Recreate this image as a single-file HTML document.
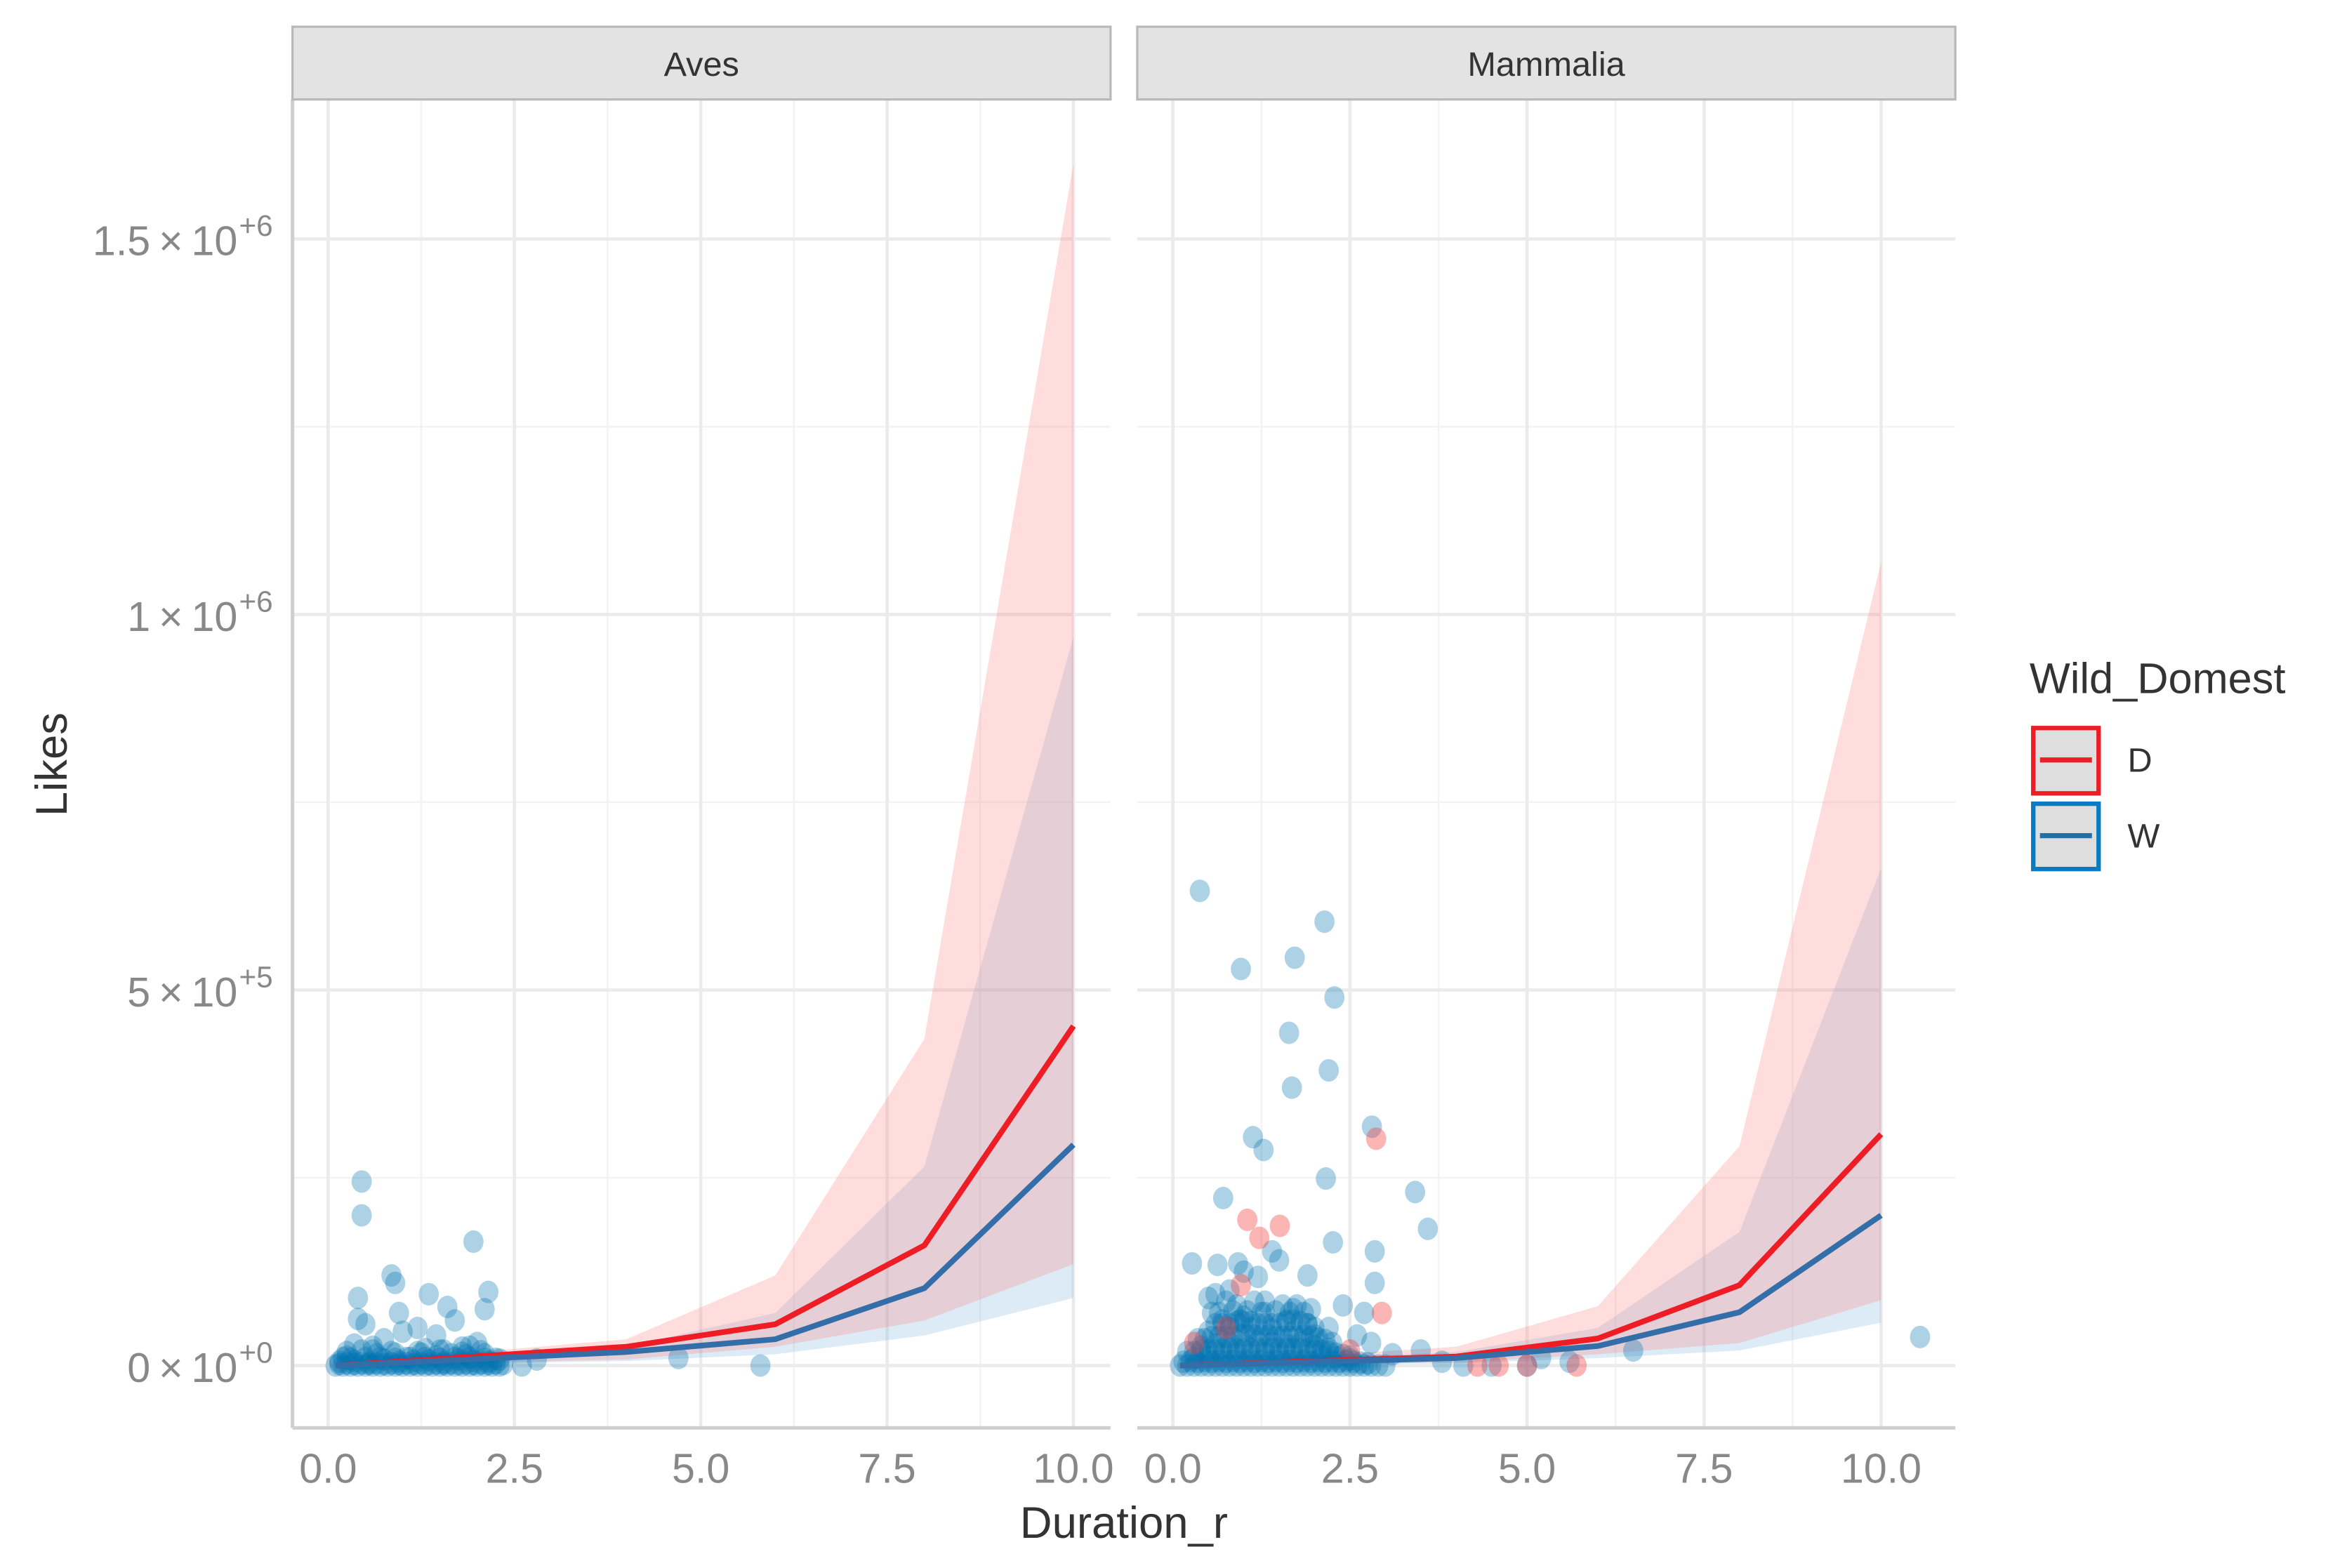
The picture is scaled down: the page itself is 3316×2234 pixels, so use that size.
<!DOCTYPE html>
<html><head><meta charset="utf-8"><style>
html,body{margin:0;padding:0;background:#fff}
svg{display:block}
text{font-family:"Liberation Sans",sans-serif}
</style></head><body>
<svg id="chart" width="3316" height="2234" viewBox="0 0 1568 1056.4" preserveAspectRatio="none" xmlns="http://www.w3.org/2000/svg">
<g id="root"></g>
</svg>
<script>
// ---- data ----
const lineX = [0.1, 4, 6, 8, 10];
const avesDLine = [0, 25000, 55000, 160000, 452000];
const avesWLine = [0, 18000, 35000, 103000, 294000];
const avesDUpper = [2000, 35000, 120000, 435000, 1600000];
const avesDLower = [0, 8000, 25000, 60000, 135000];
const avesWUpper = [1500, 25000, 70000, 265000, 970000];
const avesWLower = [0, 6000, 15000, 40000, 90000];
const mamDLine = [0, 12000, 36000, 107000, 308000];
const mamWLine = [0, 10000, 26000, 71000, 200000];
const mamDUpper = [2000, 25000, 79000, 292000, 1070000];
const mamDLower = [0, 4000, 15000, 30000, 87000];
const mamWUpper = [1500, 18000, 50000, 178000, 662000];
const mamWLower = [0, 3000, 10000, 20000, 57000];

const avesWX = [0.45,0.45,1.95,0.85,0.9,0.4,2.15,1.35,1.6,2.1,0.95,0.4,1.7,1.2,0.5,1.45,0.75,1.0,1.9,2.0,0.35,1.55,2.8,4.7,5.8,2.6,
 0.1,0.2,0.3,0.4,0.5,0.6,0.7,0.8,0.9,1.0,1.1,1.2,1.3,1.4,1.5,1.6,1.7,1.8,1.9,2.0,2.1,2.2,2.3,0.15,0.35,0.55,0.75,0.95,1.15,1.35,1.55,1.75,1.95,2.15,0.25,0.65,1.05,1.45,1.85,2.25,0.45,0.85,1.25,1.65,2.05,0.6,1.3,1.8,
 0.15,0.25,0.35,0.45,0.55,0.65,0.75,0.85,0.95,1.05,1.15,1.25,1.35,1.45,1.55,1.65,1.75,1.85,1.95,2.05,2.15,2.25,2.35,
 0.2,0.3,0.5,0.7,0.9,1.1,1.3,1.5,1.7,1.9,2.1,2.3,0.25,0.6,0.9,1.2,1.5,1.8,2.1];
const avesWY = [245000,200000,165000,120000,110000,90000,98000,95000,78000,75000,70000,62000,60000,50000,55000,40000,35000,45000,25000,30000,28000,20000,8000,10000,0,0,
 0,0,0,0,0,0,0,0,0,0,0,0,0,0,0,0,0,0,0,0,0,0,0,5000,6000,4000,8000,5000,6000,7000,4000,8000,6000,5000,12000,15000,10000,12000,14000,9000,20000,18000,16000,15000,19000,25000,22000,24000,
 2000,3000,2000,3000,2000,3000,2000,3000,2000,3000,2000,3000,2000,3000,2000,3000,2000,3000,2000,3000,2000,3000,2000,
 10000,9000,10000,10000,9000,10000,10000,9000,10000,10000,9000,8000,18000,20000,16000,18000,20000,17000,15000];

const mamWX = [0.38,2.14,0.96,1.72,2.28,1.64,2.2,1.68,2.81,1.13,1.28,3.42,2.16,3.6,0.71,2.26,2.85,0.27,0.63,0.92,1.4,2.85,1.0,1.5,0.5,0.8,1.2,1.9,2.4,2.7,3.1,3.5,10.55,6.5,5.6,5.2,4.1,3.8,5.0,4.5,
 0.1,0.2,0.3,0.4,0.5,0.6,0.7,0.8,0.9,1.0,1.1,1.2,1.3,1.4,1.5,1.6,1.7,1.8,1.9,2.0,2.1,2.2,2.3,2.4,2.5,2.6,2.7,2.8,2.9,3.0,
 0.3,0.5,0.7,0.9,1.1,1.3,1.5,1.7,1.9,2.1,2.3,2.5,0.4,0.6,0.8,1.0,1.2,1.4,1.6,1.8,2.0,2.2,0.5,0.8,1.1,1.4,1.7,2.0,0.7,1.0,1.3,1.6,1.9,2.2,0.9,1.3,1.7,0.55,0.6,0.95,2.6,2.8,
 0.15,0.25,0.35,0.45,0.55,0.65,0.75,0.85,0.95,1.05,1.15,1.25,1.35,1.45,1.55,1.65,1.75,1.85,1.95,2.05,2.15,2.25,2.35,2.45,2.55,2.65,2.75,
 0.2,0.3,0.4,0.5,0.6,0.7,0.8,0.9,1.0,1.1,1.2,1.3,1.4,1.5,1.6,1.7,1.8,1.9,2.0,2.1,2.2,2.3,2.4,2.5,
 0.35,0.45,0.55,0.65,0.75,0.85,0.95,1.05,1.15,1.25,1.35,1.45,1.55,1.65,1.75,1.85,1.95,2.05,2.15,2.25,
 0.6,0.7,0.8,0.9,1.0,1.1,1.2,1.3,1.4,1.5,1.6,1.7,1.8,1.9,2.0,
 0.65,0.85,1.05,1.25,1.45,1.65,1.85,1.75,1.95,0.75,1.15,1.55];
const mamWY = [632000,591000,528000,543000,490000,443000,393000,370000,318000,304000,287000,231000,249000,182000,223000,164000,152000,136000,134000,136000,152000,110000,125000,140000,90000,100000,118000,120000,80000,70000,15000,20000,38000,20000,5000,10000,0,5000,0,0,
 0,0,0,0,0,0,0,0,0,0,0,0,0,0,0,0,0,0,0,0,0,0,0,0,0,0,0,0,0,0,
 10000,12000,14000,15000,15000,16000,14000,15000,13000,12000,11000,8000,25000,28000,30000,30000,32000,30000,28000,30000,26000,22000,45000,50000,50000,48000,45000,40000,60000,65000,70000,60000,55000,50000,80000,85000,75000,70000,95000,60000,40000,30000,
 5000,6000,5000,6000,5000,6000,5000,6000,5000,6000,5000,6000,5000,6000,5000,6000,5000,6000,5000,6000,5000,6000,5000,6000,5000,4000,3000,
 18000,18000,20000,20000,20000,22000,22000,22000,22000,22000,22000,22000,22000,22000,22000,22000,22000,22000,20000,20000,18000,16000,14000,12000,
 35000,35000,38000,38000,38000,38000,40000,40000,40000,40000,40000,38000,38000,38000,38000,40000,38000,36000,34000,30000,
 55000,55000,55000,58000,58000,58000,55000,55000,55000,55000,58000,60000,58000,55000,50000,
 70000,72000,72000,70000,72000,70000,70000,80000,75000,85000,85000,80000];
const mamDX = [2.87,1.05,1.51,1.22,0.96,2.95,0.3,0.75,4.3,4.6,5.0,5.7,2.5];
const mamDY = [302000,194000,186000,170000,107000,70000,30000,50000,0,0,0,0,20000];

const yTicks = [0, 500000, 1000000, 1500000];
const yTickMant = ["0", "5", "1", "1.5"];
const yTickExp = ["+0", "+5", "+6", "+6"];
const yMinor = [250000, 750000, 1250000];
const xTicks = [0, 2.5, 5, 7.5, 10];
const xTickLabels = ["0.0", "2.5", "5.0", "7.5", "10.0"];
const xMinor = [1.25, 3.75, 6.25, 8.75];

// ---- layout ----
const NS = "http://www.w3.org/2000/svg";
const root = document.getElementById('root');
function el(tag, attrs, parent, txt){const e=document.createElementNS(NS,tag);for(const k in attrs)e.setAttribute(k,attrs[k]);if(txt!==undefined)e.textContent=txt;(parent||root).appendChild(e);return e;}
const y = v => 920 - v/500000*253;
const panels = [
 {name:"Aves", left:197, right:748, x0:221, x10:723, dl:avesDLine, wl:avesWLine, du:avesDUpper, dlo:avesDLower, wu:avesWUpper, wlo:avesWLower, wx:avesWX, wy:avesWY, dx:[], dy:[]},
 {name:"Mammalia", left:766, right:1317, x0:790, x10:1267, dl:mamDLine, wl:mamWLine, du:mamDUpper, dlo:mamDLower, wu:mamWUpper, wlo:mamWLower, wx:mamWX, wy:mamWY, dx:mamDX, dy:mamDY}
];
panels.forEach((p,pi)=>{
 const x = v => p.x0 + v*(p.x10-p.x0)/10;
 const g = el('g',{});
 
 
 yMinor.forEach(v=>{const l=el('line',{x1:p.left,x2:p.right,y1:y(v),y2:y(v),stroke:'#f3f3f3','stroke-width':1.2},g);
  });
 xMinor.forEach(v=>{const l=el('line',{x1:x(v),x2:x(v),y1:67,y2:962,stroke:'#f3f3f3','stroke-width':1.2},g);
  });
 yTicks.forEach(v=>{const l=el('line',{x1:p.left,x2:p.right,y1:y(v),y2:y(v),stroke:'#ebebeb','stroke-width':2.2},g);
  });
 xTicks.forEach(v=>{const l=el('line',{x1:x(v),x2:x(v),y1:67,y2:962,stroke:'#ebebeb','stroke-width':2.2},g);
  });
 function ribbon(up,lo,fill,name){let d='M'+lineX.map((v,i)=>x(v)+','+y(up[i])).join('L');
  for(let i=lineX.length-1;i>=0;i--)d+='L'+x(lineX[i])+','+y(lo[i]);d+='Z';
  const r=el('path',{d:d,fill:fill},g);}
 ribbon(p.wu,p.wlo,'rgba(120,175,220,0.25)','ribbon-w');
 ribbon(p.du,p.dlo,'rgba(255,120,120,0.25)','ribbon-d');
 p.wx.forEach((v,i)=>{const c=el('ellipse',{cx:x(v),cy:y(p.wy[i]),rx:6.8,ry:7.6,fill:'rgba(0,114,178,0.32)'},g);
  });
 p.dx.forEach((v,i)=>{const c=el('ellipse',{cx:x(v),cy:y(p.dy[i]),rx:6.8,ry:7.6,fill:'rgba(245,60,60,0.38)'},g);
  });
 const ld=el('polyline',{points:lineX.map((v,i)=>x(v)+','+y(p.dl[i])).join(' '),fill:'none',stroke:'#ee1c25','stroke-width':3.8},g);
 
 const lw=el('polyline',{points:lineX.map((v,i)=>x(v)+','+y(p.wl[i])).join(' '),fill:'none',stroke:'#346ea8','stroke-width':3.8},g);
 
 const ax=el('line',{x1:p.left,x2:p.right,y1:962,y2:962,stroke:'#cfcfcf','stroke-width':2.4},g);
 
 if(pi===0){const ay=el('line',{x1:p.left,x2:p.left,y1:67,y2:962,stroke:'#cfcfcf','stroke-width':2.4},g);
  }
 const s=el('rect',{x:p.left,y:18,width:p.right-p.left,height:49,fill:'#e3e3e3',stroke:'#b8b8b8','stroke-width':1.5},g);
 
 const st=el('text',{x:(p.left+p.right)/2,y:51,'text-anchor':'middle','font-size':23,fill:'#333'},g,p.name);
 
 xTicks.forEach((v,i)=>{const t=el('text',{x:x(v),y:999,'text-anchor':'middle','font-size':28,fill:'#888'},g,xTickLabels[i]);
  });
});
yTicks.forEach((v,i)=>{const t=el('text',{x:160,y:y(v)+11,'text-anchor':'end','font-size':28,fill:'#888'});
 t.appendChild(document.createTextNode(yTickMant[i]+'\u2009\u00d7\u200910'));
 
 const e=el('text',{x:161,y:y(v)-2,'text-anchor':'start','font-size':20,fill:'#888'},root,yTickExp[i]);
 });
const xt=el('text',{x:757,y:1036,'text-anchor':'middle','font-size':30,fill:'#333'},root,'Duration_r');

const yt=el('text',{x:0,y:0,'text-anchor':'middle','font-size':30,fill:'#333',transform:'translate(45,515) rotate(-90)'},root,'Likes');

const lg=el('g',{});

const lt=el('text',{x:1367,y:467,'font-size':29,fill:'#333'},lg,'Wild_Domest');

[['D','#ee1c25','#ee1c25',489],['W','#0a7bc0','#1f6fa9',540]].forEach(k=>{
 const b=el('rect',{x:1369.5,y:k[3]+1.5,width:44,height:44,fill:'#dedede',stroke:k[1],'stroke-width':3},lg);
 
 const l=el('line',{x1:1374,x2:1409,y1:k[3]+23,y2:k[3]+23,stroke:k[2],'stroke-width':3.4},lg);
 
 const t=el('text',{x:1433,y:k[3]+31,'font-size':23,fill:'#333'},lg,k[0]);
 
});
</script>
</body></html>
